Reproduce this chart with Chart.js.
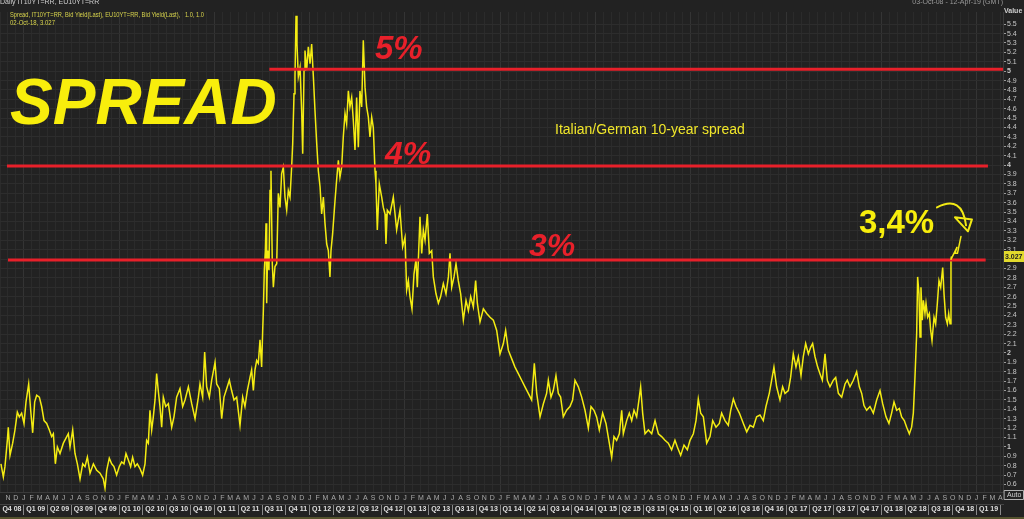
<!DOCTYPE html>
<html><head><meta charset="utf-8">
<script src="https://cdn.jsdelivr.net/npm/chart.js@4.4.1/dist/chart.umd.min.js"></script>
<style>html,body{margin:0;padding:0;background:#222;overflow:hidden}canvas{display:block}</style>
</head><body>
<canvas id="c" width="1024" height="519"></canvas>
<script>
// ---- data (decimal years, spread in percentage points) ----
const dates = [
2008.760,2008.785,2008.802,2008.827,2008.837,2008.855,2008.883,2008.907,2008.932,2008.953,2008.977,
2009.002,2009.023,2009.051,2009.072,2009.093,2009.114,2009.135,2009.163,2009.187,2009.212,2009.240,2009.268,2009.292,2009.310,2009.331,2009.352,2009.380,2009.415,2009.467,2009.485,2009.513,2009.537,2009.562,2009.590,2009.618,2009.642,2009.667,2009.695,2009.730,2009.765,2009.800,2009.834,2009.852,2009.870,2009.897,2009.922,2009.946,2009.974,
2010.002,2010.027,2010.051,2010.072,2010.097,2010.121,2010.142,2010.167,2010.191,2010.219,2010.247,2010.272,2010.289,2010.307,2010.324,2010.342,2010.359,2010.377,2010.394,2010.412,2010.429,2010.447,2010.464,2010.489,2010.517,2010.552,2010.576,2010.604,2010.639,2010.667,2010.692,2010.727,2010.762,2010.797,2010.832,2010.849,2010.877,2010.898,2010.919,2010.947,2010.972,
2011.007,2011.024,2011.052,2011.077,2011.101,2011.129,2011.157,2011.181,2011.206,2011.234,2011.269,2011.297,2011.321,2011.346,2011.374,2011.391,2011.409,2011.426,2011.444,2011.461,2011.479,2011.496,2011.507,2011.514,2011.524,2011.535,2011.542,2011.549,2011.559,2011.573,2011.584,2011.594,2011.608,2011.619,2011.636,2011.654,2011.671,2011.689,2011.706,2011.724,2011.741,2011.759,2011.776,2011.794,2011.811,2011.822,2011.836,2011.846,2011.857,2011.867,2011.881,2011.899,2011.916,2011.927,2011.941,2011.951,2011.969,2011.986,
2012.004,2012.021,2012.039,2012.056,2012.074,2012.091,2012.109,2012.126,2012.144,2012.161,2012.179,2012.196,2012.213,2012.224,2012.241,2012.266,2012.283,2012.301,2012.318,2012.336,2012.353,2012.371,2012.388,2012.406,2012.423,2012.441,2012.458,2012.476,2012.493,2012.511,2012.528,2012.546,2012.563,2012.581,2012.598,2012.616,2012.633,2012.651,2012.668,2012.686,2012.696,2012.710,2012.731,2012.756,2012.773,2012.791,2012.801,2012.815,2012.843,2012.878,2012.913,2012.948,2012.976,
2013.001,2013.018,2013.036,2013.053,2013.074,2013.095,2013.116,2013.130,2013.158,2013.176,2013.193,2013.211,2013.235,2013.256,2013.281,2013.298,2013.326,2013.351,2013.375,2013.403,2013.431,2013.456,2013.473,2013.491,2013.515,2013.536,2013.560,2013.585,2013.613,2013.641,2013.666,2013.690,2013.718,2013.742,2013.760,2013.788,2013.823,2013.858,2013.893,2013.928,2013.963,2013.998,
2014.033,2014.057,2014.085,2014.120,2014.155,2014.190,2014.225,2014.260,2014.295,2014.330,2014.358,2014.383,2014.418,2014.453,2014.487,2014.505,2014.533,2014.557,2014.585,2014.610,2014.634,2014.662,2014.697,2014.732,2014.760,2014.785,2014.820,2014.855,2014.890,2014.925,2014.953,2014.984,
2015.012,2015.040,2015.075,2015.110,2015.145,2015.170,2015.194,2015.222,2015.250,2015.275,2015.292,2015.327,2015.355,2015.380,2015.404,2015.432,2015.460,2015.474,2015.495,2015.520,2015.555,2015.590,2015.625,2015.660,2015.694,2015.729,2015.764,2015.799,2015.834,2015.859,2015.894,2015.929,2015.964,2015.992,
2016.027,2016.055,2016.079,2016.104,2016.132,2016.167,2016.202,2016.230,2016.265,2016.300,2016.324,2016.359,2016.394,2016.419,2016.447,2016.475,2016.510,2016.552,2016.587,2016.622,2016.657,2016.691,2016.726,2016.761,2016.789,2016.824,2016.849,2016.873,2016.901,2016.936,2016.964,2016.989,
2017.024,2017.048,2017.076,2017.104,2017.129,2017.157,2017.181,2017.206,2017.234,2017.258,2017.279,2017.304,2017.332,2017.356,2017.381,2017.409,2017.433,2017.461,2017.496,2017.521,2017.549,2017.584,2017.619,2017.643,2017.671,2017.706,2017.741,2017.769,2017.794,2017.818,2017.846,2017.881,2017.916,2017.951,2017.986,
2018.014,2018.049,2018.080,2018.108,2018.133,2018.161,2018.189,2018.213,2018.241,2018.266,2018.294,2018.318,2018.336,2018.353,2018.371,2018.381,2018.395,2018.406,2018.416,2018.430,2018.441,2018.458,2018.469,2018.486,2018.504,2018.518,2018.532,2018.553,2018.570,2018.588,2018.605,2018.623,2018.644,2018.658,2018.675,2018.693,2018.707,2018.721,2018.731,2018.735
];
const spread = [
0.82,0.68,0.79,1.07,1.21,0.91,1.04,1.18,1.37,1.32,1.36,
1.25,1.48,1.67,1.39,1.15,1.48,1.55,1.53,1.43,1.28,1.25,1.18,1.11,1.14,0.82,1.00,0.93,1.04,1.14,1.00,1.18,0.93,0.82,0.66,0.82,0.79,0.89,0.72,0.82,0.75,0.72,0.66,0.56,0.75,0.88,0.82,0.79,0.70,
0.79,0.84,0.82,0.93,0.86,0.79,0.89,0.79,0.82,0.77,0.70,0.82,1.07,1.04,1.39,1.18,1.32,1.50,1.78,1.59,1.43,1.21,1.53,1.43,1.46,1.21,1.32,1.53,1.62,1.43,1.50,1.64,1.46,1.30,1.53,1.67,1.53,2.01,1.64,1.53,1.71,
1.90,1.67,1.62,1.30,1.53,1.62,1.71,1.60,1.50,1.53,1.23,1.53,1.43,1.60,1.74,1.82,1.60,1.82,1.92,1.89,2.14,1.85,2.24,2.45,2.88,3.09,3.38,2.53,3.09,2.88,3.73,3.94,2.95,2.70,2.92,2.95,3.70,3.55,3.91,3.98,3.66,3.52,3.73,3.66,3.98,4.23,4.76,4.94,5.59,5.29,4.94,5.04,4.58,4.12,5.01,5.22,5.01,5.26,
5.08,5.29,4.94,4.58,4.23,3.94,3.77,3.48,3.66,3.38,3.16,3.09,2.81,3.09,3.27,3.62,3.84,4.05,3.87,3.98,4.30,4.55,4.44,4.79,4.62,4.72,4.48,4.16,4.72,4.19,4.79,4.62,5.33,4.83,4.62,4.51,4.30,4.51,4.40,3.94,3.80,3.31,3.80,3.66,3.55,3.48,3.16,3.52,3.48,3.66,3.31,3.52,3.13,
3.23,2.67,2.77,2.60,2.47,2.84,3.00,2.70,3.45,3.06,3.31,3.20,3.48,3.06,3.09,2.81,2.63,2.53,2.60,2.74,2.63,2.81,3.06,2.70,2.81,2.95,2.77,2.63,2.35,2.56,2.45,2.60,2.49,2.77,2.53,2.33,2.47,2.42,2.38,2.35,2.24,1.99,
2.10,2.24,2.03,1.94,1.85,1.78,1.71,1.64,1.57,1.50,1.89,1.57,1.32,1.46,1.57,1.71,1.53,1.60,1.76,1.57,1.53,1.32,1.39,1.43,1.50,1.71,1.64,1.53,1.39,1.20,1.43,1.39,
1.32,1.18,1.36,1.25,1.04,0.89,1.11,1.07,1.14,1.39,1.14,1.28,1.36,1.28,1.39,1.32,1.53,1.64,1.36,1.14,1.18,1.14,1.28,1.14,1.11,1.07,1.04,0.97,1.07,1.00,0.91,1.02,0.97,1.07,
1.14,1.28,1.51,1.36,1.32,1.04,1.11,1.28,1.21,1.25,1.36,1.28,1.23,1.39,1.51,1.43,1.36,1.25,1.16,1.23,1.21,1.32,1.34,1.28,1.43,1.57,1.71,1.85,1.64,1.50,1.64,1.57,
1.60,1.74,1.99,1.85,1.96,1.76,1.96,2.10,1.99,2.06,2.10,1.96,1.85,1.78,1.71,1.99,1.71,1.64,1.71,1.74,1.57,1.53,1.67,1.71,1.64,1.71,1.80,1.64,1.57,1.44,1.39,1.43,1.36,1.50,1.60,
1.46,1.32,1.25,1.36,1.48,1.39,1.41,1.32,1.28,1.21,1.14,1.21,1.36,1.74,2.21,2.81,2.63,2.17,2.70,2.35,2.56,2.42,2.53,2.38,2.42,2.24,2.13,2.38,2.31,2.53,2.77,2.70,2.91,2.63,2.38,2.31,2.42,2.31,2.99,3.027
];
// horizontal reference levels drawn by hand on the original
const refLevels = [5.02, 3.99, 2.99];
const refStarts = [2011.577, 2008.823, 2008.834];
const refEnds   = [2019.277, 2019.119, 2019.095];
const refLabels = ['5%', '4%', '3%'];
// axis labelling
const monthLetters = ['J','F','M','A','M','J','J','A','S','O','N','D'];
const yTickValues = [];
for (let i = 6; i <= 55; i++) yTickValues.push(i / 10);
const xMin = 2008.75, xMax = 2019.277;
const yMin = 0.52, yMax = 5.63;
const lastValueLabel = '3.027';

// ---- derived tick lists ----
const monthStarts = [], monthMarks = [], quarterMids = [];
for (let m = 0; m < 130; m++) {
  const t = 2008 + (9 + m) / 12;
  if (t <= xMax) monthStarts.push({value: t});
  if (m > 0 && t < xMax) monthMarks.push({value: t, label: monthLetters[(9 + m) % 12]});
  if ((9 + m) % 3 === 0) {
    const qmid = t + 1.5 / 12;
    const yr = Math.floor(t + 1e-6);
    const q = Math.floor(((9 + m) % 12) / 3) + 1;
    if (qmid < xMax) quarterMids.push({value: qmid, label: 'Q' + q + ' ' + String(yr).slice(2)});
  }
}

const FONT = "'Liberation Sans', Arial, sans-serif";

const pts = dates.map((d, i) => ({x: d, y: spread[i]}));
const refSets = refLevels.map((v, i) => ({
  data: [{x: refStarts[i], y: v}, {x: refEnds[i], y: v}],
  borderColor: '#e8202a', borderWidth: 3, pointRadius: 0, xAxisID: 'xm', yAxisID: 'y', order: 0
}));

const bgPlugin = {
  id: 'bg',
  beforeDraw(chart) {
    const c = chart.ctx;
    c.save(); c.fillStyle = '#222222'; c.fillRect(0, 0, chart.width, chart.height); c.restore();
  }
};

const annoPlugin = {
  id: 'anno',
  afterDraw(chart) {
    const c = chart.ctx, xs = chart.scales.xm, ys = chart.scales.y, ca = chart.chartArea;
    const P = (t, v) => [xs.getPixelForValue(t), ys.getPixelForValue(v)];
    c.save();
    // header
    c.fillStyle = '#cfcfcf'; c.font = '7px ' + FONT; c.textBaseline = 'alphabetic';
    c.fillText('Daily IT10YT=RR, EU10YT=RR', 0, 4);
    c.textAlign = 'right'; c.fillStyle = '#9a9a9a';
    c.fillText('03-Oct-08 - 12-Apr-19 (GMT)', 1003, 4);
    c.textAlign = 'left';
    c.fillStyle = '#d8d44c';
    c.fillText('Spread, IT10YT=RR, Bid Yield(Last), EU10YT=RR, Bid Yield(Last),   1.0, 1.0', 10, 17, 194);
    c.fillText('02-Oct-18, 3.027', 10, 25, 45);
    c.fillStyle = '#d0d0d0'; c.font = 'bold 7px ' + FONT;
    c.fillText('Value', 1004, 13);

    // big annotations
    c.fillStyle = '#f8ee0c';
    c.font = 'italic bold 64px ' + FONT;
    let p = P(2008.855, 4.433); c.fillText('SPREAD', p[0], p[1]);
    c.fillStyle = '#e8202a';
    const refTextPos = [[2012.686, 5.13, 33], [2012.791, 4.01, 32], [2014.302, 3.029, 32]];
    refTextPos.forEach((r, i) => {
      c.font = 'italic bold ' + r[2] + 'px ' + FONT;
      const q = P(r[0], r[1]); c.fillText(refLabels[i], q[0], q[1]);
    });
    c.fillStyle = '#f0e62a'; c.font = '14px ' + FONT;
    p = P(2014.575, 4.326); c.fillText('Italian/German 10-year spread', p[0], p[1]);
    c.fillStyle = '#f8ee0c'; c.font = 'bold 33px ' + FONT;
    p = P(2017.765, 3.273); c.fillText('3,4%', p[0], p[1]);

    // hand-drawn arrow
    c.strokeStyle = '#f2ea14'; c.lineWidth = 2; c.lineJoin = 'round'; c.lineCap = 'round';
    c.beginPath();
    let a = P(2018.584, 3.549), b = P(2018.847, 3.688), e = P(2018.889, 3.359);
    c.moveTo(a[0], a[1]); c.quadraticCurveTo(b[0], b[1], e[0], e[1]); c.stroke();
    c.beginPath();
    [[2018.773, 3.444], [2018.951, 3.422], [2018.909, 3.295]].forEach((k, i) => {
      const q = P(k[0], k[1]); if (i) c.lineTo(q[0], q[1]); else c.moveTo(q[0], q[1]);
    });
    c.closePath(); c.stroke();
    // squiggle continuing the last value
    c.lineWidth = 1.5; c.beginPath();
    [[2018.731, 2.997], [2018.773, 3.082], [2018.794, 3.125], [2018.773, 3.061], [2018.799, 3.061], [2018.836, 3.241]].forEach((k, i) => {
      const q = P(k[0], k[1]); if (i) c.lineTo(q[0], q[1]); else c.moveTo(q[0], q[1]);
    });
    c.stroke();

    // last value box on axis
    const ly = ys.getPixelForValue(spread[spread.length - 1]);
    c.fillStyle = '#e2da2c'; c.fillRect(ca.right + 1, ly - 5.5, 20, 11);
    c.fillStyle = '#222'; c.font = 'bold 7px ' + FONT; c.textBaseline = 'middle';
    c.fillText(lastValueLabel, ca.right + 2, ly + 0.5);
    // Auto box
    c.strokeStyle = '#b0b0b0'; c.lineWidth = 1;
    c.strokeRect(ca.right + 1.5, 490.5, 19, 9);
    c.fillStyle = '#d0d0d0'; c.font = '7px ' + FONT;
    c.fillText('Auto', ca.right + 4, 495.5);
    // bottom strip
    c.fillStyle = '#55532e'; c.fillRect(0, 517, chart.width, 2);
    c.restore();
  }
};

new Chart(document.getElementById('c'), {
  type: 'line',
  data: {
    datasets: [
      ...refSets,
      { data: pts, borderColor: '#f4ec12', borderWidth: 1.5, pointRadius: 0, tension: 0,
        xAxisID: 'xm', yAxisID: 'y', order: 1 }
    ]
  },
  options: {
    responsive: false, animation: false, events: [], devicePixelRatio: 1,
    layout: { padding: { left: 0, right: 0, top: 12, bottom: 2 } },
    plugins: { legend: { display: false }, tooltip: { enabled: false } },
    scales: {
      xg: {
        type: 'linear', position: 'bottom', weight: 0, min: xMin, max: xMax,
        afterBuildTicks: s => { s.ticks = monthStarts.map(o => ({value: o.value})); },
        afterFit: s => { s.height = 0; },
        ticks: { display: false, autoSkip: false },
        grid: { drawTicks: false,
          color: ctx => {
            const v = ctx.tick ? ctx.tick.value : 0;
            const mo = Math.round((v - Math.floor(v + 1e-6)) * 12);
            return mo === 0 ? '#343434' : '#2b2b2b';
          } },
        border: { display: false }
      },
      xm: {
        type: 'linear', position: 'bottom', weight: 1, min: xMin, max: xMax,
        afterBuildTicks: s => { s.ticks = monthMarks.map(o => ({value: o.value})); },
        afterFit: s => { s.height = 12; },
        ticks: { autoSkip: false, maxRotation: 0, padding: 2, color: '#a8a8a8',
          font: { family: FONT, size: 7 },
          callback: (v, i) => monthMarks[i] ? monthMarks[i].label : '' },
        grid: { display: false, drawTicks: false, tickLength: 0 },
        border: { display: true, color: '#3a3a3a' }
      },
      xq: {
        type: 'linear', position: 'bottom', weight: 2, min: xMin, max: xMax,
        afterBuildTicks: s => { s.ticks = quarterMids.map(o => ({value: o.value})); },
        afterFit: s => { s.height = 13; },
        ticks: { autoSkip: false, maxRotation: 0, padding: -10, color: '#e0e0e0',
          font: { family: FONT, size: 7, weight: 'bold' },
          callback: (v, i) => quarterMids[i] ? quarterMids[i].label : '' },
        grid: { drawOnChartArea: false, offset: true, drawTicks: true, tickLength: 11, color: '#8a8a8a' },
        border: { display: true, color: '#444' }
      },
      y: {
        type: 'linear', position: 'right', min: yMin, max: yMax,
        afterBuildTicks: s => { s.ticks = yTickValues.map(v => ({value: v})); },
        afterFit: s => { s.width = 21; },
        ticks: { autoSkip: false, padding: 1, color: '#c8c8c8',
          font: ctx => ({ family: FONT, size: 7,
            weight: (ctx.tick && Math.abs(ctx.tick.value - Math.round(ctx.tick.value)) < 1e-6) ? 'bold' : 'normal' }),
          callback: v => (Math.abs(v - Math.round(v)) < 1e-6) ? String(Math.round(v)) : v.toFixed(1) },
        grid: { color: '#2d2d2d', tickColor: '#9a9a9a', tickLength: 3, drawTicks: true },
        border: { display: true, color: '#3a3a3a' }
      }
    }
  },
  plugins: [bgPlugin, annoPlugin]
});
</script>
</body></html>
